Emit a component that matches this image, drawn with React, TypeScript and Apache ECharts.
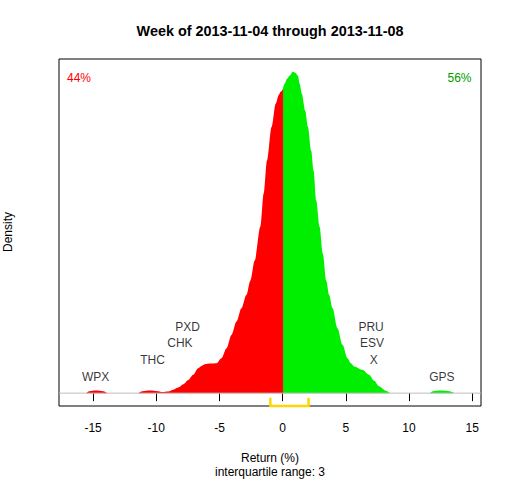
import React, { useEffect, useRef } from "react";
import * as echarts from "echarts";

// Density of weekly returns (negative side, red)
const redX = [-16.0, -15.6, -15.3, -14.8, -14.2, -13.8, -11.5, -11.1, -10.5, -9.9, -9.5, -9.05, -8.66, -8.26, -7.86, -7.47, -7.08, -6.68, -6.4, -6.16, -5.7, -5.23, -4.84, -4.44, -4.05, -3.65, -3.26, -2.87, -2.55, -2.21, -1.76, -1.5, -1.24, -0.87, -0.55, -0.3, -0.16, 0];
const redY = [0, 0, 0.001, 0.00135, 0.001, 0, 0, 0.001, 0.00135, 0.001, 0.0006, 0.00085, 0.00175, 0.00285, 0.0045, 0.00665, 0.00925, 0.0125, 0.01375, 0.0145, 0.01485, 0.015, 0.0175, 0.0225, 0.02915, 0.03585, 0.0425, 0.04915, 0.0565, 0.0665, 0.0835, 0.1, 0.1165, 0.1335, 0.145, 0.1495, 0.151, 0.152];
// Density of weekly returns (positive side, green)
const greenX = [0, 0.16, 0.35, 0.55, 0.81, 1.0, 1.21, 1.35, 1.52, 1.79, 2.0, 2.26, 2.45, 2.66, 2.92, 3.18, 3.45, 3.68, 3.95, 4.34, 4.74, 5.13, 5.4, 5.66, 6.31, 6.84, 7.24, 7.63, 8.16, 8.55, 11.6, 11.9, 12.5, 13.2, 13.6];
const greenY = [0.152, 0.155, 0.1575, 0.159, 0.161, 0.1605, 0.159, 0.155, 0.15, 0.1415, 0.1335, 0.1215, 0.1115, 0.0965, 0.0835, 0.07, 0.0565, 0.0492, 0.0425, 0.0325, 0.0242, 0.0175, 0.015, 0.0134, 0.0117, 0.0092, 0.0062, 0.0034, 0.0012, 0, 0, 0.001, 0.00135, 0.001, 0];

// Outlier tickers, their returns and stacking level
const tickers = ["WPX", "THC", "CHK", "PXD", "X", "ESV", "PRU", "GPS"];
const tickerReturns = [-14.8, -10.3, -8.13, -7.52, 7.21, 7.08, 7.0, 12.6];
const tickerLevels = [1, 2, 3, 4, 2, 3, 4, 1];

const xTicks = [-15, -10, -5, 0, 5, 10, 15];
const quartiles = [-0.97, 2.05];
const pctNeg = "44%";
const pctPos = "56%";
const titleText = "Week of 2013-11-04 through 2013-11-08";
const xTitle = "Return (%)";
const iqrText = "interquartile range: 3";

const FONT = "'Liberation Sans', Arial, Helvetica, sans-serif";

export default function App() {
  const ref = useRef<HTMLDivElement>(null);
  useEffect(() => {
    if (!ref.current) return;
    const chart = echarts.init(ref.current, null, { renderer: "svg" });
    const yPeak = Math.max(...redY, ...greenY);
    const yMin = -0.04 * yPeak;
    const yMax = 1.04 * yPeak;
    const xMin = -17.7;
    const xMax = 15.7;
    const labelStep = 0.0083;
    const splitX = redX[redX.length - 1];
    const splitY = redY[redY.length - 1];

    const txt = (text: string, x: number, y: number, extra: any = {}) => ({
      type: "text",
      x,
      y,
      rotation: extra.rotation || 0,
      style: {
        text,
        fontFamily: FONT,
        fontSize: extra.fontSize || 12,
        fontWeight: extra.fontWeight || "normal",
        fill: extra.fill || "#000",
        align: "center",
        verticalAlign: "middle",
        textAlign: "center",
        textVerticalAlign: "middle",
      },
    });

    chart.setOption({
      animation: false,
      backgroundColor: "#fff",
      grid: {
        left: 59,
        top: 59,
        width: 422,
        height: 347,
        show: true,
        borderColor: "#000",
        borderWidth: 1,
        backgroundColor: "transparent",
      },
      xAxis: {
        type: "value",
        min: xMin,
        max: xMax,
        axisLine: { show: false },
        splitLine: { show: false },
        axisTick: {
          show: true,
          length: 8,
          lineStyle: { color: "#000", width: 1 },
          customValues: xTicks,
        },
        axisLabel: {
          show: true,
          fontSize: 12,
          fontFamily: FONT,
          color: "#000",
          margin: 16,
          customValues: xTicks,
        },
      },
      yAxis: {
        type: "value",
        min: yMin,
        max: yMax,
        show: true,
        axisLine: { show: false },
        axisTick: { show: false },
        axisLabel: { show: false },
        splitLine: { show: false },
      },
      series: [
        {
          type: "line",
          data: redX.map((x, i) => [x, redY[i]]),
          showSymbol: false,
          symbol: "none",
          smooth: 0.3,
          smoothMonotone: "x",
          lineStyle: { width: 0, color: "#FF0000" },
          areaStyle: { color: "#FF0000", opacity: 1 },
          z: 2,
        },
        {
          type: "line",
          data: greenX.map((x, i) => [x, greenY[i]]),
          showSymbol: false,
          symbol: "none",
          smooth: 0.3,
          smoothMonotone: "x",
          lineStyle: { width: 0, color: "#00EE00" },
          areaStyle: { color: "#00EE00", opacity: 1 },
          z: 2,
        },
        {
          type: "line",
          data: [
            [splitX, 0],
            [splitX, splitY],
          ],
          showSymbol: false,
          symbol: "none",
          lineStyle: { width: 1, color: "#FF0000" },
          z: 2.5,
        },
        {
          type: "line",
          data: [
            [xMin, 0],
            [xMax, 0],
          ],
          showSymbol: false,
          symbol: "none",
          lineStyle: { width: 1, color: "#BEBEBE" },
          z: 3,
        },
        {
          type: "line",
          data: [
            [quartiles[0], yMin * 0.35],
            [quartiles[0], yMin],
            [quartiles[1], yMin],
            [quartiles[1], yMin * 0.35],
          ],
          showSymbol: false,
          symbol: "none",
          clip: false,
          lineStyle: { width: 2.5, color: "#FFD700", join: "miter" },
          z: 5,
        },
        {
          type: "scatter",
          symbolSize: 1,
          itemStyle: { color: "transparent" },
          data: tickers.map((t, i) => ({
            name: t,
            value: [tickerReturns[i], tickerLevels[i] * labelStep],
          })),
          label: {
            show: true,
            position: "inside",
            formatter: "{b}",
            fontSize: 12,
            fontFamily: FONT,
            color: "#000",
          },
          z: 6,
        },
      ],
      graphic: [
        txt(titleText, 270, 31, { fontSize: 14.4, fontWeight: "bold" }),
        txt(pctNeg, 79, 78, { fill: "#FF0000" }),
        txt(pctPos, 459.5, 78, { fill: "#009900" }),
        txt(xTitle, 270, 457.5),
        txt(iqrText, 270, 471.5),
        txt("Density", 8, 232, { rotation: Math.PI / 2 }),
      ],
    });
    return () => chart.dispose();
  }, []);
  return (
    <div
      ref={ref}
      style={{ position: "absolute", left: 0, top: 0, width: 512, height: 480, background: "#fff" }}
    />
  );
}
